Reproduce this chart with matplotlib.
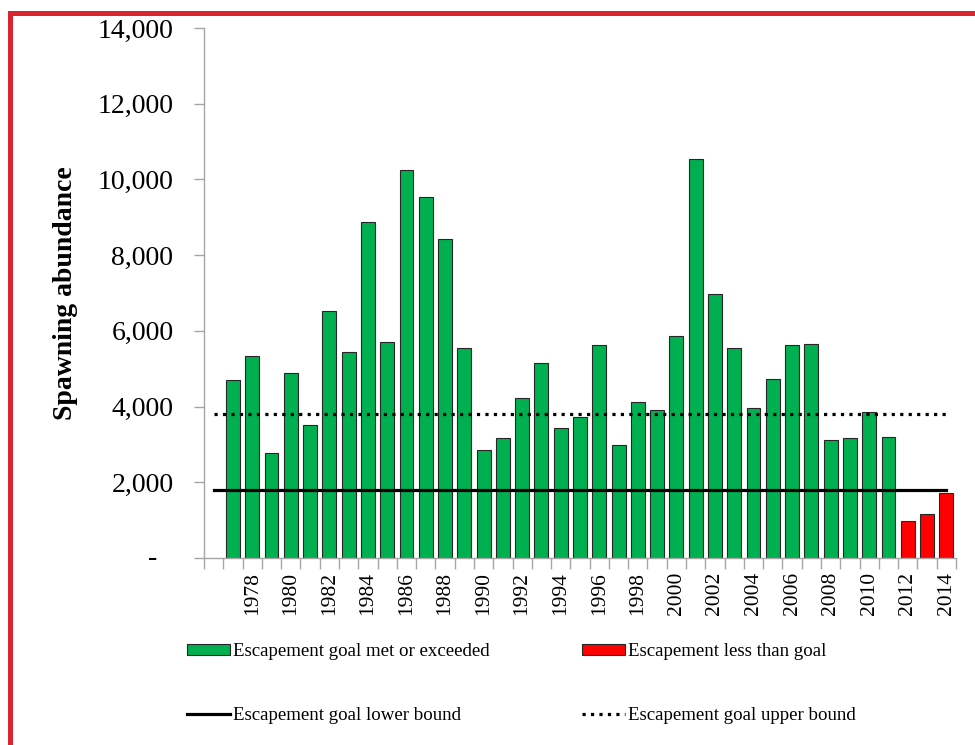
import matplotlib.pyplot as plt
import matplotlib.transforms as mtransforms
from matplotlib.lines import Line2D
from matplotlib.patches import Patch
from matplotlib.ticker import FuncFormatter

# Daten
jahre = list(range(1977, 2015))
abundanz = [4700, 5340, 2770, 4890, 3510, 6520, 5440, 8870, 5710, 10250,
            9530, 8430, 5550, 2850, 3170, 4230, 5150, 3430, 3720, 5630,
            2980, 4120, 3910, 5860, 10540, 6970, 5550, 3960, 4730, 5630,
            5650, 3120, 3170, 3860, 3200, 980, 1160, 1720]
ziel_jahre = list(range(1976, 2015))
ziel_unten = 1800
ziel_oben = 3800

gruen = '#00B050'
rot = '#FF0000'

plt.rcParams['font.family'] = ['Liberation Serif', 'DejaVu Serif']

fig = plt.figure(figsize=(9.75, 7.45), dpi=100)
ax = fig.add_axes([204 / 975, 1 - 558 / 745, (956 - 204) / 975, (558 - 28) / 745])

farben = [gruen if w >= ziel_unten else rot for w in abundanz]
ax.bar(jahre, abundanz, width=0.72, color=farben, edgecolor='#262626', linewidth=0.8, zorder=2)

ax.plot(ziel_jahre, [ziel_unten] * len(ziel_jahre), color='black', lw=2.3, zorder=3)
ax.plot(ziel_jahre, [ziel_oben] * len(ziel_jahre), color='black', lw=2.3,
        linestyle=(0, (1, 1.65)), zorder=3)

ax.set_xlim(1975.5, 2014.5)
ax.set_ylim(0, 14000)
ax.set_yticks(range(0, 14001, 2000))
ax.yaxis.set_major_formatter(FuncFormatter(lambda v, p: '' if v == 0 else f'{int(v):,}'))
ax.text(-0.0625, 0, '-', transform=mtransforms.blended_transform_factory(ax.transAxes, ax.transData),
        ha='right', va='center', fontsize=20)

# Ticks an den Kategoriegrenzen, Beschriftung jedes zweite Jahr
ax.set_xticks([j + 0.5 for j in range(1975, 2015)])
ax.set_xticklabels([])
ax.set_xticks(list(range(1978, 2015, 2)), minor=True)
ax.set_xticklabels([str(j) for j in range(1978, 2015, 2)], minor=True, rotation=90, fontsize=15.5)
ax.tick_params(axis='x', which='minor', length=0, pad=10)
ax.tick_params(axis='x', which='major', length=8, color='#a6a6a6', width=1)
ax.tick_params(axis='y', length=7, color='#a6a6a6', width=1, labelsize=20, pad=15)

for s in ['top', 'right']:
    ax.spines[s].set_visible(False)
for s in ['left', 'bottom']:
    ax.spines[s].set_color('#a6a6a6')
    ax.spines[s].set_linewidth(1)

ax.set_ylabel('Spawning abundance', fontsize=20, fontweight='bold')
ax.yaxis.set_label_coords(-0.167, 0.5)

handles = [
    Patch(facecolor=gruen, edgecolor='#262626', linewidth=0.8),
    Line2D([], [], color='black', lw=2.3),
    Patch(facecolor=rot, edgecolor='#262626', linewidth=0.8),
    Line2D([], [], color='black', lw=2.3, linestyle=(0, (1, 1.65))),
]
labels = ['Escapement goal met or exceeded', 'Escapement goal lower bound',
          'Escapement less than goal', 'Escapement goal upper bound']
fig.legend(handles, labels, ncol=2, frameon=False, fontsize=13.6,
           loc='upper left', bbox_to_anchor=(170 / 975, 1 - 626 / 745),
           handlelength=2.3, handleheight=0.55, handletextpad=0.15,
           columnspacing=4.87, labelspacing=2.5)

# roter Rahmen links und oben
fig.add_artist(Line2D([9.5 / 975, 9.5 / 975], [0, 1 - 12.5 / 745], color='#d9262e', lw=3.6,
                      transform=fig.transFigure, solid_capstyle='projecting'))
fig.add_artist(Line2D([9.5 / 975, 1], [1 - 12.5 / 745, 1 - 12.5 / 745], color='#d9262e', lw=3.6,
                      transform=fig.transFigure, solid_capstyle='projecting'))

fig.savefig('out.png', dpi=100)
